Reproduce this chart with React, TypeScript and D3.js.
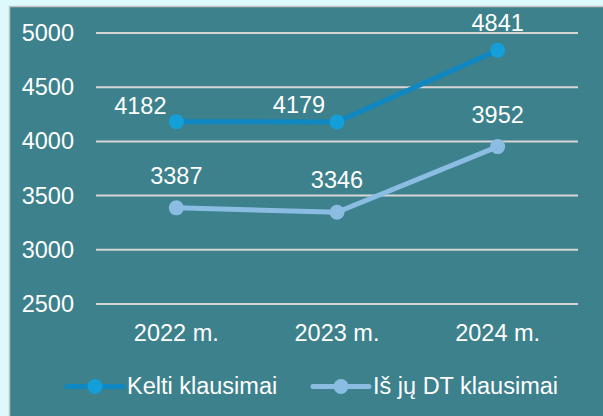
import React from "react";
import * as d3 from "d3";

const categories = ["2022 m.", "2023 m.", "2024 m."];
const seriesNames = ["Kelti klausimai", "Iš jų DT klausimai"];
const keltiValues = [4182, 4179, 4841];
const dtValues = [3387, 3346, 3952];
const yTicks = [2500, 3000, 3500, 4000, 4500, 5000];

// label offsets (layout only): [dx, dy] relative to the point
const keltiLabelOffsets = [[-36, -8], [-38, -9], [0, -19]];
const dtLabelOffsets = [[0, -24], [0, -24], [0, -24]];

const W = 603;
const H = 416;
const FONT = "'Liberation Sans', Arial, sans-serif";
const FS = 23.5;

export default function App() {
  const x = d3.scaleBand().domain(categories).range([96, 578]).padding(0);
  const y = d3.scaleLinear().domain([2500, 5000]).range([304, 33]);
  const cx = (c: string) => (x(c) as number) + x.bandwidth() / 2;

  const line = d3
    .line<number>()
    .x((_, i) => cx(categories[i]))
    .y((v) => y(v));

  const series = [
    { name: seriesNames[0], values: keltiValues, line: "#0e87c3", marker: "#149fd9", offs: keltiLabelOffsets },
    { name: seriesNames[1], values: dtValues, line: "#8bbde3", marker: "#8bbde3", offs: dtLabelOffsets },
  ];

  const legendItems = [
    { x0: 67, x1: 123, tx: 127 },
    { x0: 313, x1: 369, tx: 373 },
  ];
  const legendY = 386.5;

  return (
    <svg
      width={W}
      height={H}
      style={{ position: "absolute", left: 0, top: 0, fontFamily: FONT }}
    >
      <rect x={0} y={0} width={W} height={H} fill="#dcf9fb" />
      <rect x={9.5} y={6.5} width={W} height={H} fill="#3c818c" stroke="#c4c4c4" strokeWidth={1.5} />
      {yTicks.map((t) => (
        <g key={t}>
          <line x1={96} x2={578} y1={y(t)} y2={y(t)} stroke="#d6d6d6" strokeWidth={2} />
          <text x={74} y={y(t) + 8} textAnchor="end" fill="#ffffff" fontSize={FS}>
            {t}
          </text>
        </g>
      ))}
      {categories.map((c) => (
        <text key={c} x={cx(c)} y={341} textAnchor="middle" fill="#ffffff" fontSize={FS}>
          {c}
        </text>
      ))}
      {series.map((s) => (
        <g key={s.name}>
          <path d={line(s.values) || ""} fill="none" stroke={s.line} strokeWidth={5} strokeLinejoin="round" />
          {s.values.map((v, i) => (
            <circle key={i} cx={cx(categories[i])} cy={y(v)} r={7.5} fill={s.marker} />
          ))}
          {s.values.map((v, i) => (
            <text
              key={"l" + i}
              x={cx(categories[i]) + s.offs[i][0]}
              y={y(v) + s.offs[i][1]}
              textAnchor="middle"
              fill="#ffffff"
              fontSize={FS}
            >
              {v}
            </text>
          ))}
        </g>
      ))}
      {series.map((s, i) => {
        const L = legendItems[i];
        return (
          <g key={"leg" + i}>
            <line x1={L.x0} x2={L.x1} y1={legendY} y2={legendY} stroke={s.line} strokeWidth={5} strokeLinecap="round" />
            <circle cx={(L.x0 + L.x1) / 2} cy={legendY} r={7.5} fill={s.marker} />
            <text x={L.tx} y={394.3} fill="#ffffff" fontSize={FS}>
              {s.name}
            </text>
          </g>
        );
      })}
    </svg>
  );
}
